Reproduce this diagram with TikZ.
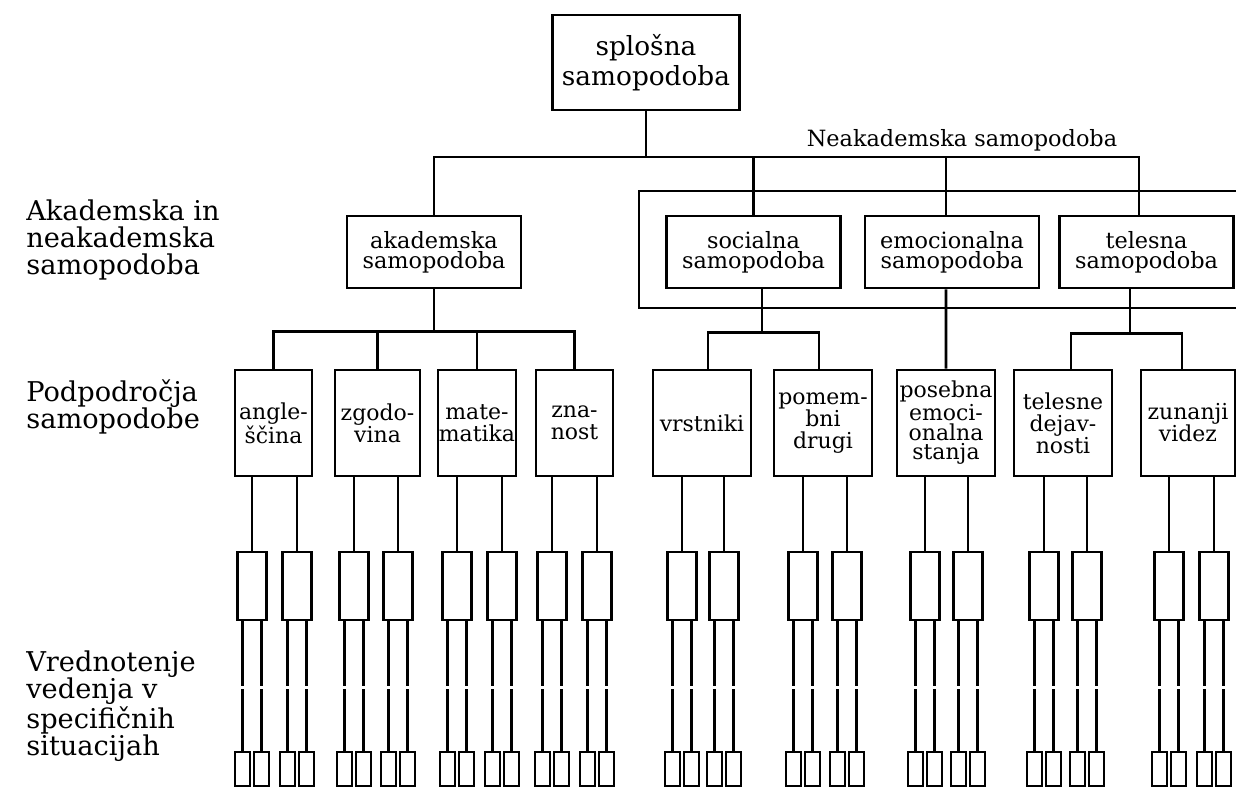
\documentclass[tikz,border=0pt]{standalone}
\usepackage{fontspec}
\setmainfont{DejaVu Serif}
\usetikzlibrary{positioning}

\begin{document}
\begin{tikzpicture}[x=0.02cm, y=-0.02cm, line width=1.5pt,
    every node/.style={inner sep=0pt},
    topbox/.style={draw, align=center, minimum width=3.74cm, minimum height=1.9cm, font=\fontsize{15}{17}\selectfont},
    midbox/.style={draw, align=center, minimum width=3.48cm, minimum height=1.44cm, font=\fontsize{12.75}{11.5}\selectfont},
    subbox/.style={draw, align=center, minimum height=2.12cm, font=\fontsize{12.5}{12.5}\selectfont},
    sitbox/.style={draw, minimum width=0.58cm, minimum height=1.36cm},
    tinybox/.style={draw, minimum width=0.3cm, minimum height=0.68cm},
    level/.style={anchor=west, align=left, font=\fontsize{15.5}{15.4}\selectfont}]
        \useasboundingbox (0,0) rectangle (1236,787);
        % General self-concept
        \node[topbox] (gen) at (646,62.5) {splošna\\samopodoba};
        % Academic and non-academic
        \node[midbox] (aka) at (434,252) {akademska\\samopodoba};
        \node[midbox] (soc) at (753.5,252) {socialna\\samopodoba};
        \node[midbox] (emo) at (952,252) {emocionalna\\samopodoba};
        \node[midbox] (tel) at (1146.5,252) {telesna\\samopodoba};
        \node[font=\fontsize{12.75}{14}\selectfont] (nak) at (962,140) {Neakademska samopodoba};
        % Subareas
        \node[subbox, minimum width=1.54cm] (ang) at (273.5,423) {angle-\\ščina};
        \node[subbox, minimum width=1.7cm] (zgo) at (377.5,423) {zgodo-\\vina};
        \node[subbox, minimum width=1.56cm] (mat) at (477,423) {mate-\\matika};
        \node[subbox, minimum width=1.54cm] (zna) at (574.5,423) {zna-\\nost};
        \node[subbox, minimum width=1.96cm] (vrs) at (702,423) {vrstniki};
        \node[subbox, minimum width=1.96cm] (pom) at (823,423) {pomem-\\bni\\drugi};
        \node[subbox, minimum width=1.96cm, font=\fontsize{12.5}{11.2}\selectfont] (pos) at (946,423) {posebna\\emoci-\\onalna\\stanja};
        \node[subbox, minimum width=1.96cm] (tes) at (1063,423) {telesne\\dejav-\\nosti};
        \node[subbox, minimum width=1.88cm] (zun) at (1188,423) {zunanji\\videz};
        % Level labels
        \node[level] (lab1) at (25,240) {Akademska in\\neakademska\\samopodoba};
        \node[level] (lab2) at (25,407) {Podpodročja\\samopodobe};
        \node[level] (lab3) at (25,706) {Vrednotenje\\vedenja v\\specifičnih\\situacijah};
        % Top bus
        \coordinate (bus) at (646,157);
        \coordinate (emoin) at ([xshift=-0.12cm]emo.north);
        \coordinate (telin) at ([xshift=-0.15cm]tel.north);
        \draw (gen.south) -- (bus);
        \draw (aka.north) |- (telin |- bus) -- (telin);
        \draw (soc.north) -- (soc.north |- bus);
        \draw (emoin) -- (emoin |- bus);
        % Non-academic frame
        \coordinate (frtop) at (1236,191);
        \coordinate (frbot) at (1236,308);
        \draw (frtop) -| (639,308) -- (frbot);
        % Academic bus
        \coordinate (akabus) at ([yshift=-0.84cm]aka.south);
        \draw (aka.south) -- (akabus);
        \draw (ang.north) |- (akabus) -| (zna.north);
        \draw (zgo.north) -- (zgo.north |- akabus);
        \draw (mat.north) -- (mat.north |- akabus);
        % Social bus
        \coordinate (socout) at ([xshift=0.17cm]soc.south);
        \coordinate (socbus) at ([yshift=-0.86cm]socout);
        \coordinate (vrsin) at ([xshift=0.12cm]vrs.north);
        \coordinate (pomin) at ([xshift=-0.08cm]pom.north);
        \draw (socout) -- (socbus);
        \draw (vrsin) |- (socbus) -| (pomin);
        % Emotional
        \draw (emoin |- emo.south) -- (pos.north);
        % Physical bus
        \coordinate (telout) at ([xshift=-0.33cm]tel.south);
        \coordinate (telbus) at ([yshift=-0.88cm]telout);
        \coordinate (tesin) at ([xshift=0.16cm]tes.north);
        \coordinate (zunin) at ([xshift=-0.12cm]zun.north);
        \draw (telout) -- (telbus);
        \draw (tesin) |- (telbus) -| (zunin);
        % Situations
        \foreach \x/\p [count=\i] in {252/ang,297/ang,354/zgo,398/zgo,457/mat,502/mat,552/zna,597/zna,682/vrs,724/vrs,803/pom,847/pom,925/pos,968/pos,1044/tes,1087/tes,1169/zun,1214/zun}{
            \node[sitbox] (s\i) at (\x,586) {};
            \draw (\p.south -| s\i) -- (s\i.north);
            \foreach \dx/\side in {-9.5/a,9.5/b}{
                \node[tinybox] (t\i\side) at ({\x+\dx},769) {};
                \draw (t\i\side.north |- s\i.south) -- ++(0,65);
                \draw (t\i\side.north) -- ++(0,-62);
            }
        }
    \end{tikzpicture}
\end{document}
